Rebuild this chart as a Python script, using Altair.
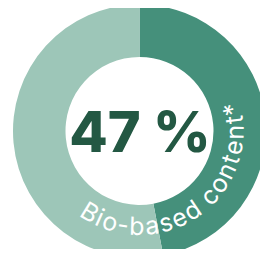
import math
import altair as alt
import pandas as pd

# ---- data ----
categories = ["Bio-based", "Other"]
shares = [47, 53]
colors = ["#45907b", "#9dc6b8"]
center_label = f"{shares[0]} %"
ring_label = "Bio-based content*"

# ---- layout constants ----
W, H = 252, 241
CX, CY = 131.5, 123.0
R_OUT, R_IN = 126.5, 74
TXT_R = 104          # baseline radius of the curved label
ADV_R = 101          # radius used for advancing characters
FS = 25
TRACK = 1.3
START_DEG = 211.5    # centre of first character (clockwise from top)

em = {"B": 0.645, "i": 0.236, "o": 0.593, "-": 0.44, "b": 0.62, "a": 0.56,
      "s": 0.52, "e": 0.58, "d": 0.62, " ": 0.26, "c": 0.55, "n": 0.6,
      "t": 0.36, "*": 0.45}

rows = []
pos = 0.0
first_center = None
for ch in ring_label:
    w = em.get(ch, 0.55) * FS
    center = pos + w / 2
    if first_center is None:
        first_center = center
    deg = START_DEG - (center - first_center) / ADV_R * 180 / math.pi
    rows.append({"ch": ch, "theta": math.radians(deg), "rot": (deg - 180) % 360})
    pos += w + TRACK
chars = pd.DataFrame(rows)

ring_df = pd.DataFrame({"cat": categories, "value": shares, "order": [0, 1]})

ring = alt.Chart(ring_df).mark_arc(innerRadius=R_IN, outerRadius=R_OUT).encode(
    theta=alt.Theta("value:Q"),
    order=alt.Order("order:Q"),
    color=alt.Color("cat:N", scale=alt.Scale(domain=categories, range=colors), legend=None),
    x=alt.value(CX),
    y=alt.value(CY),
)

center = alt.Chart(pd.DataFrame({"t": [center_label]})).mark_text(
    font="Inter", fontWeight=800, fontSize=56, color="#235843",
    align="center", baseline="alphabetic",
).encode(text="t:N", x=alt.value(CX + 0.5), y=alt.value(144))

curved = alt.Chart(chars).mark_text(
    font="Inter", fontSize=FS, color="white", align="center",
    baseline="alphabetic", radius=TXT_R,
).encode(
    text="ch:N",
    theta=alt.Theta("theta:Q", scale=None, stack=False),
    angle=alt.Angle("rot:Q", scale=None),
    x=alt.value(CX),
    y=alt.value(CY),
)

chart = alt.layer(ring, center, curved).properties(
    width=W, height=H, padding=0, autosize=alt.AutoSizeParams(type="none")
).configure_view(stroke=None)

chart.save("out.html", embed_options={"renderer": "svg", "actions": False})
